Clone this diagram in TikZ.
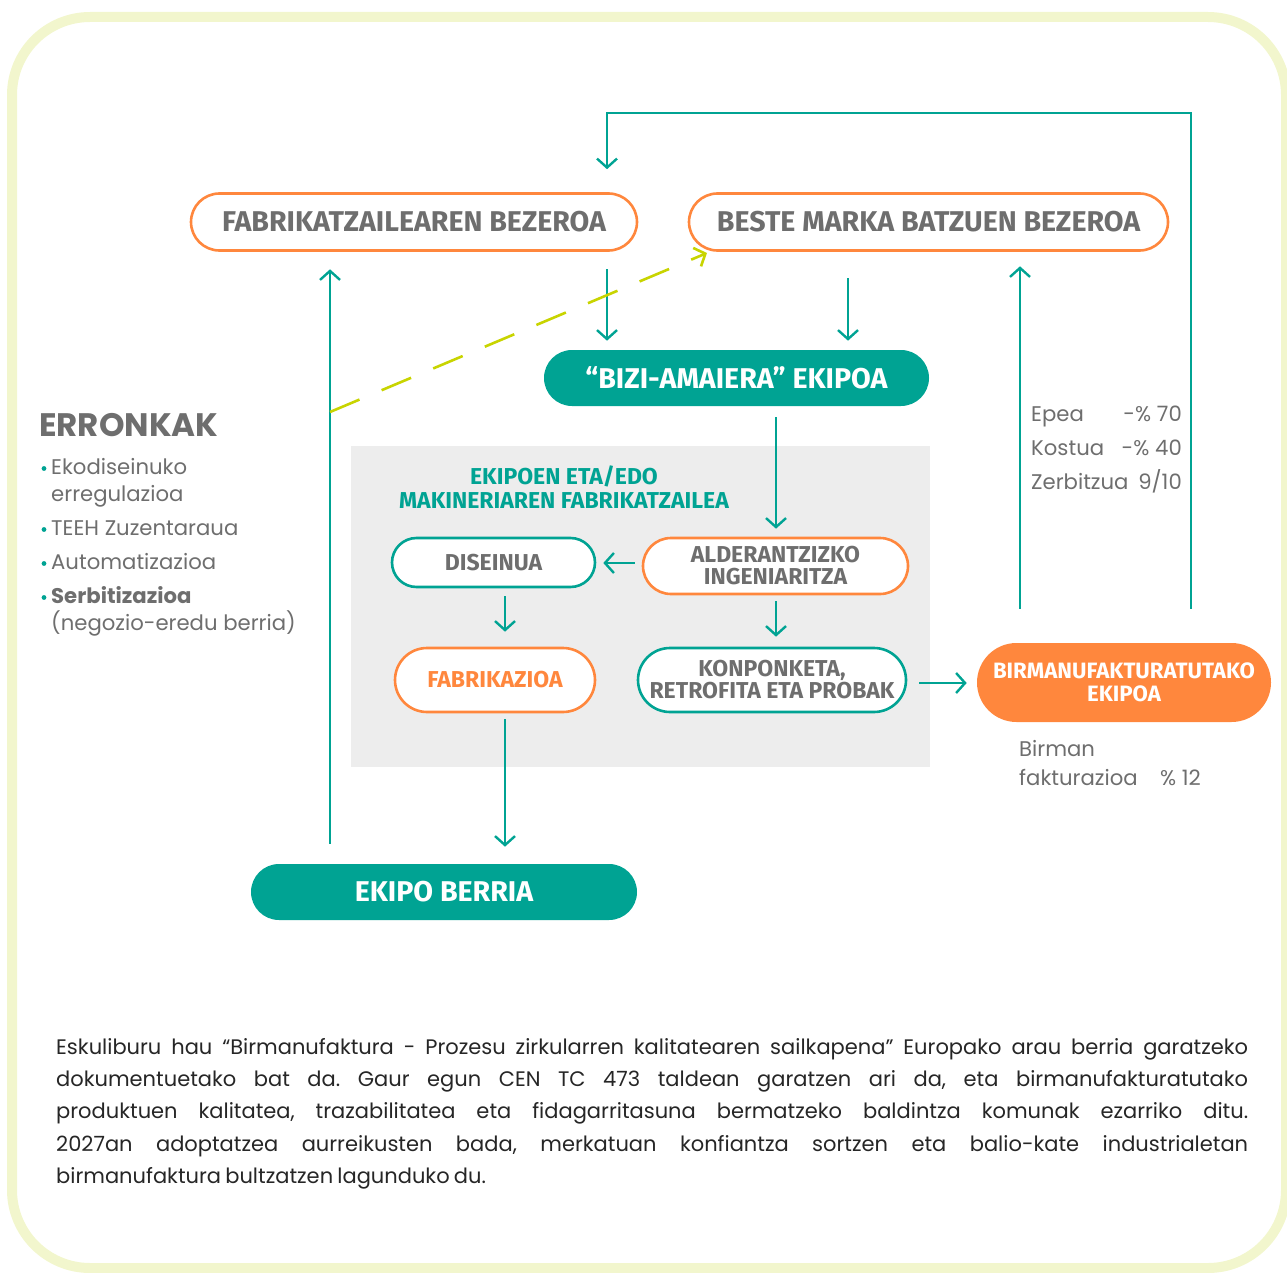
\documentclass[tikz,border=0pt]{standalone}
\usepackage{fontspec}
\setmainfont{Poppins}
\newfontfamily\boxfont{Fira Sans}
\usetikzlibrary{arrows.meta,shapes.misc}
\definecolor{tealc}{HTML}{00A393}
\definecolor{orangec}{HTML}{FF873D}
\definecolor{grayt}{HTML}{6E6E6E}
\definecolor{panelc}{HTML}{EDEDED}
\definecolor{limec}{HTML}{C8D400}
\definecolor{framec}{HTML}{F2F6CD}
\tikzset{
  pill/.style={rounded rectangle, line width=2.6pt, inner sep=0pt, align=center, font=\boxfont\bfseries},
  pillO/.style={pill, draw=orangec, fill=white, text=grayt},
  pillT/.style={pill, draw=tealc, fill=white, text=grayt},
  pillTF/.style={pill, fill=tealc, text=white},
  pillOF/.style={pill, fill=orangec, text=white},
  big/.style={font=\boxfont\bfseries\fontsize{28.6}{30}\selectfont},
  small/.style={font=\boxfont\bfseries\fontsize{23}{22}\selectfont},
  arr/.style={draw=tealc, line width=2.4pt, -{Straight Barb[length=9pt,width=20pt]}},
  lbl/.style={inner sep=0pt, text=grayt, font=\fontsize{21.2}{24}\selectfont},
}
\begin{document}
\begin{tikzpicture}[x=1pt,y=-1pt]
\useasboundingbox (0,0) rectangle (1287,1273);
% frame
\draw[framec, line width=10pt, rounded corners=78pt] (12,17) rectangle (1286,1268);
% panel
\fill[panelc] (351,446) rectangle (930,767);
% nodes
\node[pillO, big, minimum width=446pt, minimum height=57pt] (fb) at (414,222) {FABRIKATZAILEAREN BEZEROA};
\node[pillO, big, minimum width=479pt, minimum height=57pt] (bm) at (928.5,222) {BESTE MARKA BATZUEN BEZEROA};
\node[pillTF, big, minimum width=385pt, minimum height=56pt] (bizi) at (736.5,378) {“BIZI-AMAIERA” EKIPOA};
\node[pillT, small, minimum width=203pt, minimum height=49pt] (dis) at (493.5,562.5) {DISEINUA};
\node[pillO, small, minimum width=265pt, minimum height=56pt] (ald) at (775.5,566) {ALDERANTZIZKO\\INGENIARITZA};
\node[pillO, small, minimum width=200pt, minimum height=64pt, text=orangec] (fabz) at (495,680) {FABRIKAZIOA};
\node[pillT, small, minimum width=268pt, minimum height=64pt] (konp) at (772,680) {KONPONKETA,\\RETROFITA ETA PROBAK};
\node[pillOF, minimum width=294pt, minimum height=79pt, font=\boxfont\bfseries\fontsize{22.2}{22.5}\selectfont] (birm) at (1124,682.5) {BIRMANUFAKTURATUTAKO\\EKIPOA};
\node[pillTF, big, minimum width=386pt, minimum height=56pt] (berria) at (444,892) {EKIPO BERRIA};
% panel title
\node[inner sep=0pt, align=center, text=tealc, font=\boxfont\bfseries\fontsize{23}{24}\selectfont] (ptitle) at (564,487) {EKIPOEN ETA/EDO\\MAKINERIAREN FABRIKATZAILEA};
% arrows
\draw[arr, shorten <=17.5pt, shorten >=8pt] ([xshift=193pt]fb.south) -- ([xshift=-129.5pt]bizi.north);
\draw[arr, shorten <=26.5pt, shorten >=8pt] ([xshift=-80.5pt]bm.south) -- ([xshift=111.5pt]bizi.north);
\draw[arr, shorten <=10pt, shorten >=8pt] ([xshift=39.5pt]bizi.south) -- ([xshift=0.5pt]ald.north);
\draw[arr, shorten <=7pt, shorten >=7pt] ([yshift=3pt]ald.west) -- ([yshift=3pt]ald.west -| dis.east);
\draw[arr, shorten <=6pt, shorten >=10pt] ([xshift=0.5pt]ald.south) -- ([xshift=4pt]konp.north);
\draw[arr, shorten <=8pt, shorten >=15pt] ([xshift=11.5pt]dis.south) -- ([xshift=10pt]fabz.north);
\draw[arr, shorten <=6pt, shorten >=16pt] ([xshift=10pt]fabz.south) -- ([xshift=61pt]berria.north);
\draw[arr, shorten <=19pt, shorten >=17.5pt] ([xshift=-114pt]berria.north) -- ([xshift=-84pt]fb.south);
\draw[arr, shorten <=12pt, shorten >=9pt] ([yshift=-3pt]konp.east) -- ([yshift=-3pt]konp.east -| birm.west);
\draw[arr, shorten <=33pt, shorten >=14.5pt] ([xshift=-104pt]birm.north) -- ([xshift=91.5pt]bm.south);
\coordinate (tr) at (1191,113);
\draw[arr, shorten <=33pt, shorten >=23pt] ([xshift=67pt]birm.north) -- (tr) -- ([xshift=193pt]fb.north |- tr) -- ([xshift=193pt]fb.north);
\coordinate (dstart) at (330,412);
\draw[draw=limec, line width=2.6pt, dash pattern=on 32pt off 24pt, -{Straight Barb[length=9pt,width=20pt]}] (dstart) -- ([xshift=-221.5pt,yshift=-31pt]bm.center);
% ERRONKAK
\node[inner sep=0pt, anchor=base west, text=grayt, font=\bfseries\fontsize{32.5}{32}\selectfont] (err) at (39,436) {ERRONKAK};
\foreach \yy/\tt/\nm in {474/Ekodiseinuko/e1,501/erregulazioa/e2,535/TEEH Zuzentaraua/e3,569/Automatizazioa/e4,630/(negozio-eredu berria)/e6}
  \node[lbl, anchor=base west] (\nm) at (51,\yy) {\tt};
\node[lbl, anchor=base west, font=\bfseries\fontsize{21.2}{24}\selectfont] (e5) at (51,603) {Serbitizazioa};
\foreach \yy in {474,535,569,603} \fill[tealc] (44,\yy-5.5) circle (2.4pt);
% stats
\node[lbl, anchor=base west] (s1) at (1031,421) {Epea};
\node[lbl, anchor=base east] (v1) at (1182,421) {-\% 70};
\node[lbl, anchor=base west] (s2) at (1031,455) {Kostua};
\node[lbl, anchor=base east] (v2) at (1182,455) {-\% 40};
\node[lbl, anchor=base west] (s3) at (1031,489) {Zerbitzua};
\node[lbl, anchor=base east] (v3) at (1182,489) {9/10};
\node[lbl, anchor=base west] (b1) at (1019,756) {Birman};
\node[lbl, anchor=base west] (b2) at (1019,785) {fakturazioa};
\node[lbl, anchor=base east] (b3) at (1201,785) {\% 12};
% paragraph
\node[inner sep=0pt, anchor=north west, text width=1192pt, align=justify, text=black!85, font=\fontsize{21}{32.3}\selectfont] (para) at (56,1038) {\frenchspacing\spaceskip=0.2em plus 1em minus 0.1em Eskuliburu hau “Birmanufaktura - Prozesu zirkularren kalitatearen sailkapena” Europako arau berria garatzeko\linebreak dokumentuetako bat da. Gaur egun CEN TC 473 taldean garatzen ari da, eta birmanufakturatutako\linebreak produktuen kalitatea, trazabilitatea eta fidagarritasuna bermatzeko baldintza komunak ezarriko ditu.\linebreak 2027an adoptatzea aurreikusten bada, merkatuan konfiantza sortzen eta balio-kate industrialetan\linebreak birmanufaktura bultzatzen lagunduko du.};
\end{tikzpicture}
\end{document}
